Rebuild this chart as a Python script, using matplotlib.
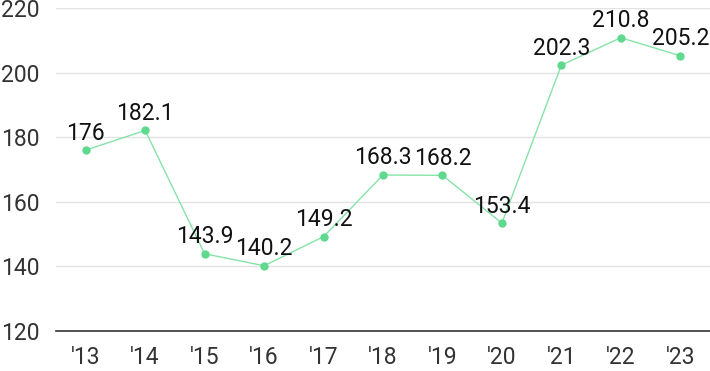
import matplotlib
matplotlib.use("Agg")
import matplotlib.pyplot as plt

plt.rcParams['font.family'] = ['Roboto', 'DejaVu Sans']

years = ["'13", "'14", "'15", "'16", "'17", "'18", "'19", "'20", "'21", "'22", "'23"]
values = [176, 182.1, 143.9, 140.2, 149.2, 168.3, 168.2, 153.4, 202.3, 210.8, 205.2]
labels = ["176", "182.1", "143.9", "140.2", "149.2", "168.3", "168.2", "153.4", "202.3", "210.8", "205.2"]
yticks = [120, 140, 160, 180, 200, 220]

fig = plt.figure(figsize=(7.1, 3.71), dpi=100)
ax = fig.add_axes([56 / 710, 1 - 331 / 371, 1 - 56 / 710, (331 - 8) / 371])

x = list(range(len(years)))
ax.plot(x, values, color='#86e3a8', linewidth=1, zorder=3)
ax.plot(x, values, 'o', color='#5fd98e', markersize=6, markeredgewidth=0, zorder=4)

for xi, v, lab in zip(x, values, labels):
    ax.annotate(lab, (xi, v), xytext=(0, 4), textcoords='offset points',
                ha='center', va='bottom', fontsize=16.5, color='#111111', zorder=5)

ax.set_xlim(-0.5, 10.5)
ax.set_ylim(120, 220)
ax.set_yticks(yticks)
ax.set_xticks(x)
ax.set_xticklabels(years)

ax.grid(axis='y', color='#e3e3e3', linewidth=1)
ax.set_axisbelow(True)
for side in ['top', 'right', 'left']:
    ax.spines[side].set_visible(False)
ax.spines['bottom'].set_color('#333333')
ax.spines['bottom'].set_linewidth(1.2)

ax.tick_params(axis='both', length=0, labelsize=16.5, colors='#333333')
ax.tick_params(axis='y', pad=12)
ax.tick_params(axis='x', pad=11)

fig.savefig('out.png', dpi=100)
